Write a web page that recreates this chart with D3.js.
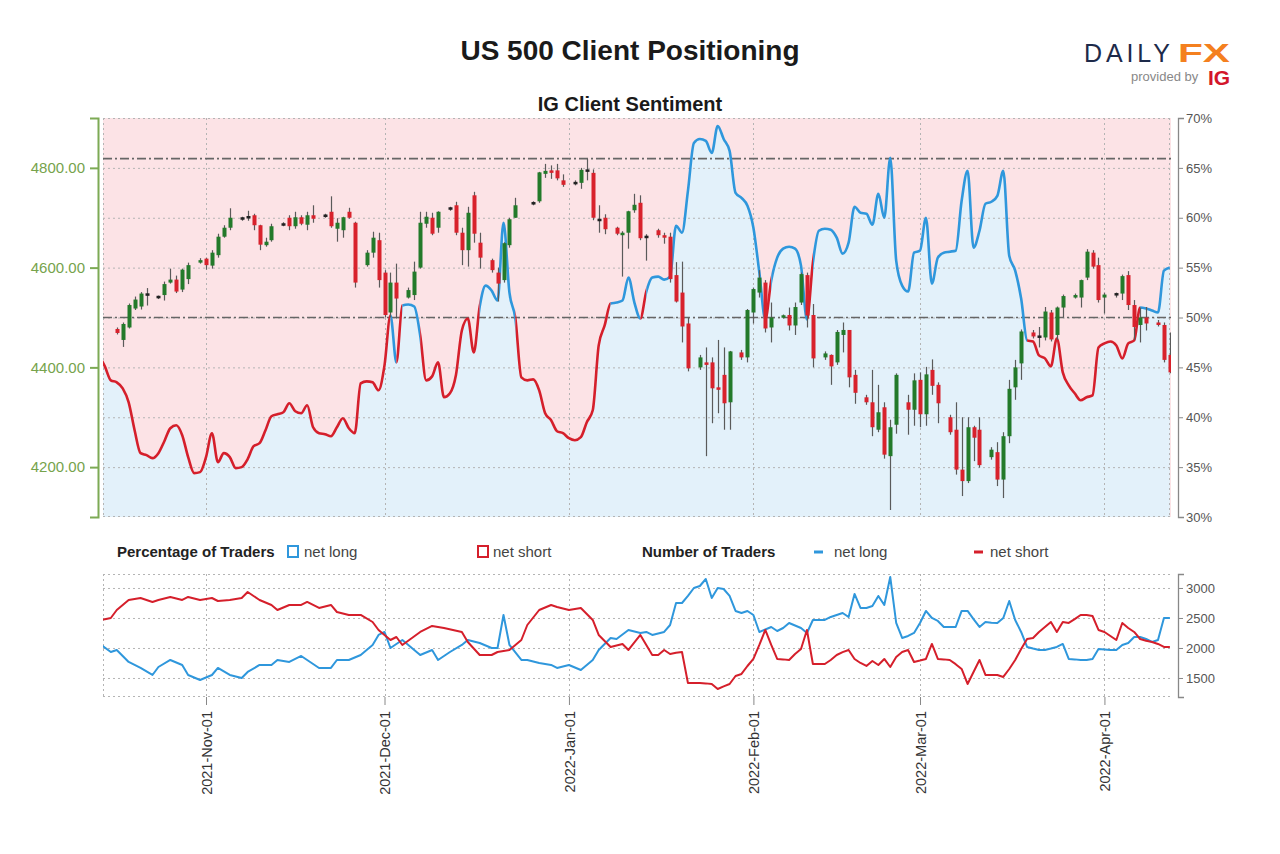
<!DOCTYPE html>
<html><head><meta charset="utf-8">
<script src="https://cdn.jsdelivr.net/npm/d3@7"></script>
<style>body{margin:0;background:#fff;} svg{display:block;font-family:"Liberation Sans",Arial,sans-serif;}</style>
</head><body><svg id="c" width="1280" height="854"></svg>
<script>
// ---------------- DATA ----------------
const chartTitle = "US 500 Client Positioning";
const panelTitle = "IG Client Sentiment";
const priceTicks = [4200, 4400, 4600, 4800];
const pctTicks = [30, 35, 40, 45, 50, 55, 60, 65, 70];
const countTicks = [1500, 2000, 2500, 3000];
const allTimeHigh = 4818.62;
const neutralPct = 50;

const candleDates = [
"2021-10-17","2021-10-18","2021-10-19","2021-10-20","2021-10-21","2021-10-22",
"2021-10-24","2021-10-25","2021-10-26","2021-10-27","2021-10-28","2021-10-29",
"2021-10-31","2021-11-01","2021-11-02","2021-11-03","2021-11-04","2021-11-05",
"2021-11-07","2021-11-08","2021-11-09","2021-11-10","2021-11-11","2021-11-12",
"2021-11-14","2021-11-15","2021-11-16","2021-11-17","2021-11-18","2021-11-19",
"2021-11-21","2021-11-22","2021-11-23","2021-11-24","2021-11-25","2021-11-26",
"2021-11-28","2021-11-29","2021-11-30","2021-12-01","2021-12-02","2021-12-03",
"2021-12-05","2021-12-06","2021-12-07","2021-12-08","2021-12-09","2021-12-10",
"2021-12-12","2021-12-13","2021-12-14","2021-12-15","2021-12-16","2021-12-17",
"2021-12-19","2021-12-20","2021-12-21","2021-12-22","2021-12-23",
"2021-12-26","2021-12-27","2021-12-28","2021-12-29","2021-12-30","2021-12-31",
"2022-01-02","2022-01-03","2022-01-04","2022-01-05","2022-01-06","2022-01-07",
"2022-01-09","2022-01-10","2022-01-11","2022-01-12","2022-01-13","2022-01-14",
"2022-01-16","2022-01-17","2022-01-18","2022-01-19","2022-01-20","2022-01-21",
"2022-01-23","2022-01-24","2022-01-25","2022-01-26","2022-01-27","2022-01-28",
"2022-01-30","2022-01-31","2022-02-01","2022-02-02","2022-02-03","2022-02-04",
"2022-02-06","2022-02-07","2022-02-08","2022-02-09","2022-02-10","2022-02-11",
"2022-02-13","2022-02-14","2022-02-15","2022-02-16","2022-02-17","2022-02-18",
"2022-02-20","2022-02-21","2022-02-22","2022-02-23","2022-02-24","2022-02-25",
"2022-02-27","2022-02-28","2022-03-01","2022-03-02","2022-03-03","2022-03-04",
"2022-03-06","2022-03-07","2022-03-08","2022-03-09","2022-03-10","2022-03-11",
"2022-03-13","2022-03-14","2022-03-15","2022-03-16","2022-03-17","2022-03-18",
"2022-03-20","2022-03-21","2022-03-22","2022-03-23","2022-03-24","2022-03-25",
"2022-03-27","2022-03-28","2022-03-29","2022-03-30","2022-03-31","2022-04-01",
"2022-04-03","2022-04-04","2022-04-05","2022-04-06","2022-04-07","2022-04-08",
"2022-04-10","2022-04-11","2022-04-12"];
const candleOpen = [
4477,4455,4480,4518,4522,4545, 4540,4545,4570,4576,4556,4577, 4610,4618,4604,4625,4662,4680,
4697,4700,4705,4685,4645,4655, 4685,4700,4683,4701,4686,4705, 4703,4712,4678,4675,4712,4690,
4605,4630,4655,4590,4510,4570, 4540,4545,4600,4688,4700,4680, 4717,4725,4670,4635,4745,4650,
4615,4590,4575,4645,4700, 4728,4733,4788,4795,4795,4775, 4768,4770,4795,4790,4695,4700,
4680,4665,4670,4715,4730,4660, 4675,4665,4662,4585,4550,4488, 4400,4410,4410,4360,4385,4330,
4430,4420,4510,4550,4570,4480, 4500,4505,4484,4530,4585,4505, 4420,4425,4410,4465,4475,4385,
4340,4330,4275,4320,4222,4285, 4330,4315,4375,4306,4395,4365, 4300,4275,4195,4172,4280,4275,
4220,4230,4175,4262,4360,4408, 4470,4462,4460,4510,4465,4520, 4540,4540,4580,4630,4605,4540,
4545,4548,4585,4525,4485,4500, 4490,4485,4425];
const candleHigh = [
4480,4490,4528,4542,4551,4559, 4544,4572,4598,4584,4598,4610, 4619,4620,4635,4668,4685,4719,
4702,4714,4708,4686,4660,4688, 4691,4705,4712,4705,4712,4725, 4708,4743,4699,4702,4720,4692,
4635,4672,4670,4595,4590,4608, 4560,4612,4712,4712,4710,4713, 4722,4732,4680,4722,4752,4670,
4618,4600,4651,4700,4740, 4733,4792,4808,4805,4808,4787, 4775,4800,4818,4797,4725,4707,
4682,4673,4714,4748,4745,4667, 4678,4670,4670,4611,4612,4500, 4425,4440,4420,4455,4440,4433,
4435,4517,4560,4595,4575,4530, 4506,4520,4530,4590,4590,4527, 4432,4426,4475,4490,4475,4395,
4345,4395,4365,4330,4295,4388, 4345,4388,4390,4401,4416,4370, 4305,4330,4300,4300,4283,4300,
4240,4250,4270,4375,4415,4476, 4475,4481,4521,4515,4522,4546, 4548,4576,4637,4635,4620,4550,
4550,4586,4593,4535,4520,4521, 4495,4490,4470];
const candleLow = [
4466,4441,4478,4515,4516,4524, 4537,4534,4568,4549,4551,4567, 4608,4596,4598,4620,4660,4675,
4694,4694,4675,4635,4642,4652, 4683,4675,4678,4685,4675,4690, 4700,4680,4652,4660,4698,4560,
4602,4620,4560,4500,4500,4498, 4538,4535,4598,4680,4665,4670, 4714,4665,4605,4602,4650,4598,
4590,4532,4570,4640,4700, 4725,4730,4780,4778,4775,4762, 4765,4758,4775,4695,4670,4667,
4665,4582,4638,4710,4655,4614, 4660,4648,4570,4530,4450,4392, 4395,4222,4288,4308,4275,4275,
4415,4410,4488,4540,4470,4450, 4498,4474,4465,4525,4480,4400, 4415,4365,4405,4430,4360,4327,
4325,4262,4270,4217,4114,4267, 4265,4283,4280,4283,4345,4288, 4265,4185,4142,4168,4212,4199,
4215,4162,4138,4248,4335,4375, 4458,4440,4454,4452,4455,4501, 4538,4520,4575,4598,4530,4508,
4540,4535,4515,4455,4450,4474, 4482,4410,4388];
const candleClose = [
4469,4487,4525,4536,4548,4547, 4542,4567,4576,4552,4596,4605, 4615,4605,4630,4662,4680,4700,
4700,4702,4685,4646,4652,4683, 4688,4683,4701,4688,4705,4698, 4705,4683,4690,4701,4700,4570,
4630,4660,4575,4505,4570,4538, 4555,4592,4690,4702,4668,4712, 4720,4670,4635,4710,4668,4620,
4595,4568,4649,4697,4725, 4730,4791,4794,4790,4779,4766, 4771,4796,4794,4700,4696,4677,
4668,4670,4713,4726,4659,4663, 4665,4660,4577,4532,4482,4398, 4420,4405,4358,4355,4328,4432,
4420,4515,4557,4580,4478,4500, 4504,4484,4521,4587,4504,4418, 4428,4402,4471,4475,4380,4349,
4330,4280,4310,4225,4280,4385, 4315,4374,4306,4386,4363,4328, 4270,4195,4172,4280,4259,4204,
4235,4175,4262,4357,4400,4472, 4462,4461,4512,4456,4520,4543, 4545,4575,4632,4602,4535,4546,
4548,4583,4525,4481,4500,4488, 4485,4415,4390];

// IG client sentiment: % of traders net long, one value per day from sentimentStart
const sentimentStart = "2021-10-14";
const sentimentValues = [
46.2,45.1,43.7,43.5,42.9,41.5,38.7,36.4,36.2,35.9,36.4,37.6,38.9,39.2,38.2,36.0,34.4,34.5,
36.0,38.4,35.5,36.4,36.0,34.9,35.0,35.8,37.1,37.4,38.7,40.1,40.3,40.5,41.4,40.6,40.4,41.2,39.0,38.4,38.3,38.1,39.0,39.9,38.9,38.4,43.4,43.6,43.5,42.7,
45.2,50.2,45.5,51.2,51.3,51.1,48.2,43.7,44.1,45.5,42.0,42.4,44.2,48.7,49.9,46.5,51.1,53.2,52.7,51.7,59.5,52.5,49.9,44.0,43.7,43.8,42.7,40.4,39.7,38.6,38.4,
37.9,37.7,38.0,39.5,40.7,47.2,49.2,51.4,51.5,51.7,54.0,51.5,49.9,52.6,54.0,54.1,53.8,54.1,59.2,58.5,62.7,67.5,67.9,67.7,66.5,69.2,67.9,66.7,62.5,62.0,61.2,
59.0,54.5,49.8,53.7,56.0,56.9,57.1,56.9,55.2,49.8,55.5,58.7,58.9,58.8,58.0,56.4,57.5,61.1,60.5,60.4,59.3,62.4,60.0,66.0,55.7,53.2,52.6,56.5,
56.7,60.0,53.4,56.0,56.5,56.6,56.7,61.7,64.7,57.0,58.7,61.4,61.6,62.2,64.7,56.2,54.7,51.9,47.7,47.6,46.2,45.9,45.1,47.9,44.5,43.2,42.4,41.7,42.0,42.2,47.0,
47.4,47.6,47.2,45.9,47.4,47.7,51.0,50.9,50.7,50.5,54.7,55.0];

// Number of traders
const longDates = ["2021-10-14","2021-10-16","2021-10-17","2021-10-19","2021-10-21","2021-10-23","2021-10-24","2021-10-26","2021-10-28","2021-10-29","2021-10-31",
"2021-11-02","2021-11-03","2021-11-05","2021-11-07","2021-11-08","2021-11-10","2021-11-12","2021-11-13","2021-11-15","2021-11-17","2021-11-18","2021-11-20","2021-11-22","2021-11-23","2021-11-25","2021-11-27","2021-11-29","2021-11-30",
"2021-12-01","2021-12-02","2021-12-04","2021-12-05","2021-12-07","2021-12-09","2021-12-10","2021-12-12","2021-12-14","2021-12-15","2021-12-17","2021-12-19","2021-12-20","2021-12-21","2021-12-22","2021-12-24","2021-12-25","2021-12-27","2021-12-29","2021-12-30",
"2022-01-01","2022-01-03","2022-01-05","2022-01-06","2022-01-08","2022-01-09","2022-01-11","2022-01-13","2022-01-14","2022-01-15","2022-01-17","2022-01-18","2022-01-19","2022-01-20","2022-01-21","2022-01-22","2022-01-23","2022-01-24","2022-01-25","2022-01-26","2022-01-27","2022-01-28","2022-01-29","2022-01-30","2022-01-31",
"2022-02-01","2022-02-02","2022-02-04","2022-02-05","2022-02-06","2022-02-07","2022-02-09","2022-02-10","2022-02-11","2022-02-13","2022-02-14","2022-02-16","2022-02-17","2022-02-18","2022-02-19","2022-02-20","2022-02-21","2022-02-22","2022-02-23","2022-02-24","2022-02-25","2022-02-26","2022-02-27","2022-02-28",
"2022-03-01","2022-03-02","2022-03-03","2022-03-04","2022-03-05","2022-03-06","2022-03-07","2022-03-08","2022-03-09","2022-03-10","2022-03-11","2022-03-12","2022-03-13","2022-03-14","2022-03-15","2022-03-16","2022-03-17","2022-03-18","2022-03-19","2022-03-20","2022-03-21","2022-03-22","2022-03-23","2022-03-24","2022-03-25","2022-03-26","2022-03-27","2022-03-28","2022-03-29","2022-03-30","2022-03-31",
"2022-04-01","2022-04-02","2022-04-03","2022-04-04","2022-04-05","2022-04-06","2022-04-07","2022-04-08","2022-04-09","2022-04-10","2022-04-11","2022-04-12"];
const longValues = [2080,1933,1967,1767,1667,1550,1683,1800,1717,1550,1467,
1550,1667,1550,1500,1600,1717,1717,1800,1767,1867,1800,1667,1667,1800,1800,1883,2050,2217,
2267,2000,2133,2050,1883,1967,1800,1933,2050,2133,2083,2000,2000,2550,2050,1800,1800,1750,1717,1667,
1717,1633,1800,1967,2167,2150,2300,2250,2267,2217,2267,2383,2750,2750,2867,3000,3033,3150,2833,3000,2983,2867,2617,2583,2617,
2550,2267,2350,2283,2333,2417,2333,2250,2467,2467,2517,2583,2517,2900,2667,2667,2700,2867,2717,3183,2417,2167,2200,2250,
2417,2617,2500,2450,2350,2350,2350,2617,2617,2480,2350,2433,2420,2417,2500,2783,2467,2267,2017,1990,1967,1967,1990,2017,2067,1817,1810,1800,1800,1817,1983,
1975,1967,1967,2050,2083,2183,2183,2150,2100,2133,2500,2500];

const shortDates = ["2021-10-14","2021-10-15","2021-10-16","2021-10-17","2021-10-19","2021-10-21","2021-10-23","2021-10-24","2021-10-26","2021-10-28","2021-10-29","2021-10-31",
"2021-11-02","2021-11-03","2021-11-05","2021-11-07","2021-11-08","2021-11-10","2021-11-12","2021-11-13","2021-11-15","2021-11-17","2021-11-18","2021-11-20","2021-11-22","2021-11-23","2021-11-25","2021-11-27","2021-11-29","2021-11-30",
"2021-12-02","2021-12-03","2021-12-04","2021-12-07","2021-12-09","2021-12-11","2021-12-14","2021-12-15","2021-12-17","2021-12-19","2021-12-20","2021-12-21","2021-12-22","2021-12-24","2021-12-25","2021-12-27","2021-12-29","2021-12-30",
"2022-01-01","2022-01-03","2022-01-05","2022-01-06","2022-01-08","2022-01-10","2022-01-11","2022-01-13","2022-01-15","2022-01-16","2022-01-17","2022-01-18","2022-01-19","2022-01-20","2022-01-21","2022-01-23","2022-01-24","2022-01-25","2022-01-26","2022-01-27","2022-01-28","2022-01-29","2022-01-30","2022-01-31",
"2022-02-01","2022-02-02","2022-02-03","2022-02-04","2022-02-05","2022-02-06","2022-02-07","2022-02-08","2022-02-09","2022-02-10","2022-02-11","2022-02-12","2022-02-13","2022-02-14","2022-02-15","2022-02-16","2022-02-17","2022-02-18","2022-02-19","2022-02-20","2022-02-21","2022-02-22","2022-02-23","2022-02-24","2022-02-25","2022-02-26","2022-02-27","2022-02-28",
"2022-03-01","2022-03-02","2022-03-03","2022-03-04","2022-03-05","2022-03-06","2022-03-07","2022-03-08","2022-03-09","2022-03-10","2022-03-11","2022-03-12","2022-03-13","2022-03-14","2022-03-15","2022-03-16","2022-03-17","2022-03-18","2022-03-19","2022-03-20","2022-03-21","2022-03-22","2022-03-23","2022-03-24","2022-03-25","2022-03-26","2022-03-27","2022-03-28","2022-03-29","2022-03-30","2022-03-31",
"2022-04-01","2022-04-02","2022-04-03","2022-04-04","2022-04-05","2022-04-06","2022-04-07","2022-04-08","2022-04-09","2022-04-10","2022-04-11","2022-04-12"];
const shortValues = [2467,2480,2500,2633,2800,2833,2767,2800,2850,2800,2850,2800,
2833,2783,2800,2833,2933,2800,2717,2633,2717,2717,2767,2667,2717,2600,2550,2550,2433,2300,
2133,2183,2050,2267,2367,2333,2267,2100,1883,1883,1933,1950,1967,2133,2383,2633,2717,2683,
2633,2667,2467,2217,2017,2067,1967,2217,1883,1883,1967,1900,1920,1933,1417,1417,1410,1400,1317,1360,1400,1533,1567,1700,
1817,2050,2300,2050,1817,1810,1800,1900,1983,2300,1733,1733,1733,1800,1883,1930,1967,1817,1750,1700,1783,1717,1817,1683,1850,1933,1967,1767,
1790,1817,2067,1817,1810,1800,1730,1650,1400,1600,1800,1550,1550,1550,1517,1650,1800,1983,2150,2167,2267,2350,2433,2267,2433,2417,2480,2550,2550,2533,2300,
2267,2200,2133,2417,2333,2267,2150,2120,2100,2067,2017,2017];

// ---------------- CHART ----------------
const C = {long:"#2f97dc", short:"#d51f2b", pink:"#fce3e6", blue:"#e3f1fa",
  green:"#237a2a", red:"#d8222c", wick:"#5a5a5a", grid:"#b4b4b4", axisG:"#7daa55"};
const parse = d3.utcParse("%Y-%m-%d");
const svg = d3.select("#c");
const defs = svg.append("defs");

const L = 103, R = 1171, T = 118, B = 517, T2 = 574, B2 = 697;
const x = d3.scaleUtc().domain([Date.UTC(2021,9,14,16,30), Date.UTC(2022,3,12,4,30)]).range([L, R]);
const yP = d3.scaleLinear().domain([4100, 4900]).range([B, T]);
const yS = d3.scaleLinear().domain([30, 70]).range([B, T]);
const yN = d3.scaleLinear().domain([1183, 3233]).range([B2, T2]);

defs.append("clipPath").attr("id","clipMain").append("rect").attr("x",L).attr("y",T).attr("width",R-L).attr("height",B-T);
defs.append("clipPath").attr("id","clipLow").append("rect").attr("x",L).attr("y",T2).attr("width",R-L).attr("height",B2-T2);

// titles
svg.append("text").attr("x",630).attr("y",60).attr("text-anchor","middle")
  .attr("font-size",28).attr("font-weight","bold").attr("fill","#1a1a1a").text(chartTitle);
svg.append("text").attr("x",630).attr("y",111).attr("text-anchor","middle")
  .attr("font-size",20).attr("font-weight","bold").attr("fill","#1a1a1a").text(panelTitle);

// logo
const logo = svg.append("g");
logo.append("text").attr("x",1084).attr("y",62).attr("font-size",25).attr("font-weight",500)
  .attr("textLength",86).attr("lengthAdjust","spacing").attr("fill","#1d2a4a").text("DAILY");
logo.append("text").attr("x",1178).attr("y",62).attr("font-size",26).attr("font-weight","bold")
  .attr("textLength",52).attr("lengthAdjust","spacingAndGlyphs").attr("fill","#f4801f").text("FX");
logo.append("text").attr("x",1131).attr("y",81).attr("font-size",13).attr("fill","#888").text("provided by");
logo.append("text").attr("x",1208).attr("y",85).attr("font-size",21).attr("font-weight","bold").attr("fill","#d3162b").text("IG");

// sentiment points
const s0 = parse(sentimentStart);
const pts = sentimentValues.map((v,i)=>({date:d3.utcDay.offset(s0,i), v}));

const gMain = svg.append("g").attr("clip-path","url(#clipMain)");
gMain.append("rect").attr("x",L).attr("y",T).attr("width",R-L).attr("height",B-T).attr("fill",C.pink);
gMain.append("path").datum(pts).attr("fill",C.blue)
  .attr("d", d3.area().x(d=>x(d.date)).y0(B).y1(d=>yS(d.v)).curve(d3.curveMonotoneX));

// gridlines main
const monthTicks = x.ticks(d3.utcMonth.every(1));
const gGrid = gMain.append("g").attr("stroke",C.grid).attr("stroke-dasharray","2,3").attr("stroke-width",1);
pctTicks.forEach(p=>gGrid.append("line").attr("x1",L).attr("x2",R).attr("y1",yS(p)+0.5).attr("y2",yS(p)+0.5));
monthTicks.forEach(t=>gGrid.append("line").attr("x1",Math.round(x(t))+0.5).attr("x2",Math.round(x(t))+0.5).attr("y1",T).attr("y2",B));
gGrid.append("line").attr("x1",L+0.5).attr("x2",L+0.5).attr("y1",T).attr("y2",B);
gGrid.append("line").attr("x1",R-1.5).attr("x2",R-1.5).attr("y1",T).attr("y2",B);
gGrid.append("line").attr("x1",L).attr("x2",R).attr("y1",B-0.5).attr("y2",B-0.5);

// dash-dot reference lines
[yS(neutralPct), yP(allTimeHigh)].forEach(yy=>{
  gMain.append("line").attr("x1",L).attr("x2",R).attr("y1",yy).attr("y2",yy)
    .attr("stroke","#666").attr("stroke-width",1.6).attr("stroke-dasharray","9,3,2,3");
});

// sentiment line, coloured per segment by starting value
const lineGen = d3.line().x(d=>x(d.date)).y(d=>yS(d.v)).curve(d3.curveMonotoneX);
const runs = [];
for (let i=0;i<pts.length-1;i++){
  const c = pts[i].v >= neutralPct ? "long" : "short";
  if (runs.length && runs[runs.length-1].c===c) runs[runs.length-1].end = i+1;
  else runs.push({c, start:i, end:i+1});
}
const gLine = gMain.append("g");
const dPath = lineGen(pts);
runs.forEach((r,k)=>{
  const x0 = x(pts[r.start].date), x1 = x(pts[r.end].date);
  defs.append("clipPath").attr("id","run"+k).append("rect")
    .attr("x",x0).attr("y",0).attr("width",Math.max(0,x1-x0)).attr("height",854);
  gLine.append("path").attr("d",dPath).attr("fill","none").attr("stroke",C[r.c])
    .attr("stroke-width",2.6).attr("stroke-linejoin","round").attr("clip-path",`url(#run${k})`);
});

// candles
const candles = candleDates.map((d,i)=>({date:parse(d), o:candleOpen[i], h:candleHigh[i], l:candleLow[i], c:candleClose[i]}));
const gC = gMain.append("g");
candles.forEach(k=>{
  const cx = Math.round(x(k.date));
  gC.append("line").attr("x1",cx+0.5).attr("x2",cx+0.5).attr("y1",yP(k.h)).attr("y2",yP(k.l))
    .attr("stroke",C.wick).attr("stroke-width",1.2);
  const top = yP(Math.max(k.o,k.c)), bot = yP(Math.min(k.o,k.c));
  const h = Math.max(2.5, bot-top);
  const col = Math.abs(k.c-k.o) < 4 ? "#222" : (k.c>=k.o ? C.green : C.red);
  gC.append("rect").attr("x",cx-1.5).attr("y",(top+bot)/2-h/2).attr("width",4).attr("height",h).attr("fill",col);
});

// left axis
const axL = svg.append("g").attr("transform",`translate(${L-5},0)`)
  .call(d3.axisLeft(yP).tickValues(priceTicks).tickFormat(d3.format(".2f")).tickSizeOuter(8).tickSizeInner(8).tickPadding(5));
axL.select(".domain").attr("stroke",C.axisG).attr("stroke-width",2);
axL.selectAll(".tick line").attr("stroke",C.axisG).attr("stroke-width",2);
axL.selectAll(".tick text").attr("fill","#76a34c").attr("font-size",15).attr("font-family","Liberation Sans, Arial");

// right axis main
const axR = svg.append("g").attr("transform",`translate(${R+7},0)`)
  .call(d3.axisRight(yS).tickValues(pctTicks).tickFormat(d=>d+"%").tickSizeOuter(6).tickSizeInner(5));
axR.select(".domain").attr("stroke","#888").attr("stroke-width",1.3);
axR.selectAll(".tick line").attr("stroke","#888");
axR.selectAll(".tick text").attr("fill","#555").attr("font-size",13).attr("font-family","Liberation Sans, Arial");

// legend
const lg = svg.append("g").attr("font-size",15);
lg.append("text").attr("x",117).attr("y",557).attr("font-weight","bold").attr("fill","#222").text("Percentage of Traders");
lg.append("rect").attr("x",288).attr("y",546).attr("width",10).attr("height",11).attr("fill","#fff").attr("stroke",C.long).attr("stroke-width",2);
lg.append("text").attr("x",304).attr("y",557).attr("fill","#444").text("net long");
lg.append("rect").attr("x",478).attr("y",546).attr("width",10).attr("height",11).attr("fill","#fff").attr("stroke",C.short).attr("stroke-width",2);
lg.append("text").attr("x",493).attr("y",557).attr("fill","#444").text("net short");
lg.append("text").attr("x",642).attr("y",557).attr("font-weight","bold").attr("fill","#222").text("Number of Traders");
lg.append("line").attr("x1",814).attr("x2",823).attr("y1",552).attr("y2",552).attr("stroke",C.long).attr("stroke-width",3);
lg.append("text").attr("x",834).attr("y",557).attr("fill","#444").text("net long");
lg.append("line").attr("x1",974).attr("x2",983).attr("y1",552).attr("y2",552).attr("stroke",C.short).attr("stroke-width",3);
lg.append("text").attr("x",990).attr("y",557).attr("fill","#444").text("net short");

// lower panel
const gLow = svg.append("g").attr("clip-path","url(#clipLow)");
const gG2 = gLow.append("g").attr("stroke",C.grid).attr("stroke-dasharray","2,3");
gG2.append("line").attr("x1",L).attr("x2",R).attr("y1",T2+0.5).attr("y2",T2+0.5);
countTicks.forEach(v=>gG2.append("line").attr("x1",L).attr("x2",R).attr("y1",yN(v)+0.5).attr("y2",yN(v)+0.5));
gG2.append("line").attr("x1",L).attr("x2",R).attr("y1",B2-0.5).attr("y2",B2-0.5);
gG2.append("line").attr("x1",L+0.5).attr("x2",L+0.5).attr("y1",T2).attr("y2",B2);
monthTicks.forEach(t=>gG2.append("line").attr("x1",Math.round(x(t))+0.5).attr("x2",Math.round(x(t))+0.5).attr("y1",T2).attr("y2",B2));

const nLine = d3.line().x(d=>x(d.date)).y(d=>yN(d.v));
const longPts = longDates.map((d,i)=>({date:parse(d), v:longValues[i]}));
const shortPts = shortDates.map((d,i)=>({date:parse(d), v:shortValues[i]}));
gLow.append("path").datum(longPts).attr("d",nLine).attr("fill","none").attr("stroke",C.long).attr("stroke-width",2).attr("stroke-linejoin","round");
gLow.append("path").datum(shortPts).attr("d",nLine).attr("fill","none").attr("stroke",C.short).attr("stroke-width",2).attr("stroke-linejoin","round");

const axR2 = svg.append("g").attr("transform",`translate(${R+7},0)`)
  .call(d3.axisRight(yN).tickValues(countTicks).tickFormat(d3.format("d")).tickSizeOuter(6).tickSizeInner(5));
axR2.select(".domain").attr("stroke","#888").attr("stroke-width",1.3);
axR2.selectAll(".tick line").attr("stroke","#888");
axR2.selectAll(".tick text").attr("fill","#555").attr("font-size",13).attr("font-family","Liberation Sans, Arial");

// bottom axis
const axB = svg.append("g").attr("transform",`translate(0,${B2})`)
  .call(d3.axisBottom(x).tickValues(monthTicks).tickFormat(d3.utcFormat("%Y-%b-%d")).tickSize(8));
axB.select(".domain").remove();
axB.selectAll(".tick line").attr("stroke","#888");
axB.selectAll(".tick text").attr("transform","rotate(-90)").attr("x",-14).attr("y",0).attr("dy","0.35em")
  .attr("text-anchor","end").attr("fill","#333").attr("font-size",14.5).attr("font-family","Liberation Sans, Arial");
</script></body></html>
